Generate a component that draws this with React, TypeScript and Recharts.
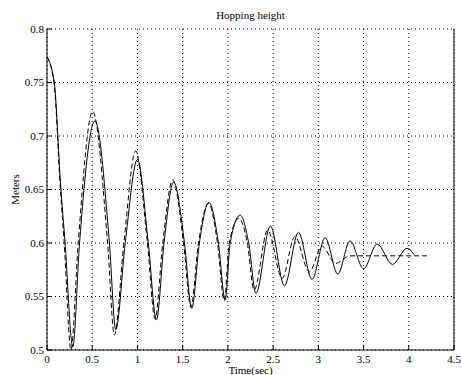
import React from 'react';
import { LineChart, Line, XAxis, YAxis, CartesianGrid } from 'recharts';

const solidTime = [0, 0.08, 0.15, 0.2, 0.285, 0.36, 0.53, 0.69, 0.76, 0.865, 1.0, 1.12, 1.21, 1.294, 1.4, 1.52, 1.6, 1.685, 1.79, 1.895, 1.97, 2.025, 2.135, 2.23, 2.31, 2.47, 2.625, 2.78, 2.93, 3.075, 3.215, 3.35, 3.5, 3.65, 3.82, 3.98, 4.06];
const solidHeight = [0.774, 0.75, 0.655, 0.6, 0.503, 0.6, 0.714, 0.6, 0.519, 0.6, 0.678, 0.6, 0.528, 0.6, 0.657, 0.6, 0.539, 0.6, 0.638, 0.6, 0.547, 0.6, 0.626, 0.6, 0.553, 0.616, 0.56, 0.61, 0.566, 0.605, 0.571, 0.602, 0.576, 0.599, 0.58, 0.595, 0.589];

const dashedTime = [0, 0.08, 0.145, 0.19, 0.265, 0.345, 0.505, 0.67, 0.745, 0.85, 0.98, 1.11, 1.195, 1.28, 1.39, 1.51, 1.59, 1.675, 1.785, 1.885, 1.96, 2.015, 2.12, 2.215, 2.29, 2.44, 2.6, 2.74, 2.9, 3.04, 3.19, 3.35, 4.2];
const dashedHeight = [0.774, 0.748, 0.655, 0.6, 0.5, 0.6, 0.723, 0.6, 0.514, 0.6, 0.686, 0.6, 0.529, 0.6, 0.659, 0.6, 0.54, 0.6, 0.637, 0.6, 0.546, 0.6, 0.623, 0.6, 0.556, 0.612, 0.567, 0.606, 0.573, 0.597, 0.581, 0.588, 0.588];

const xTicks = [0, 0.5, 1, 1.5, 2, 2.5, 3, 3.5, 4, 4.5];
const yTicks = [0.5, 0.55, 0.6, 0.65, 0.7, 0.75, 0.8];

const title = 'Hopping height';
const xLabel = 'Time(sec)';
const yLabel = 'Meters';

const solidData = solidTime.map((t, i) => ({ t, h: solidHeight[i] }));
const dashedData = dashedTime.map((t, i) => ({ t, h: dashedHeight[i] }));

const FONT = '"Liberation Serif", "Times New Roman", serif';
const tickStyle = { fill: '#000', fontSize: 11, fontFamily: FONT };

export default function App() {
  return (
    <div style={{ position: 'absolute', left: 0, top: 0, width: 461, height: 375, fontFamily: FONT, background: '#fff' }}>
      <LineChart width={461} height={375} data={solidData} margin={{ top: 29, right: 0, bottom: 0, left: 0 }}>
        <CartesianGrid stroke="#000" strokeDasharray="1 3" />
        <XAxis
          dataKey="t"
          type="number"
          domain={[0, 4.5]}
          ticks={xTicks}
          interval={0}
          height={25}
          stroke="#000"
          tickSize={-5}
          tickMargin={10}
          tick={tickStyle}
          tickFormatter={(v: number) => String(v)}
          label={{ value: xLabel, position: 'insideBottom', offset: 1, fill: '#000', fontSize: 11, fontFamily: FONT }}
        />
        <XAxis
          xAxisId="top"
          orientation="top"
          dataKey="t"
          type="number"
          domain={[0, 4.5]}
          ticks={xTicks}
          interval={0}
          height={0}
          stroke="#000"
          tickSize={-5}
          tick={false}
        />
        <YAxis
          type="number"
          domain={[0.5, 0.8]}
          ticks={yTicks}
          interval={0}
          width={47}
          stroke="#000"
          tickSize={-5}
          tickMargin={8}
          tick={tickStyle}
          tickFormatter={(v: number) => String(Math.round(v * 100) / 100)}
          label={{ value: yLabel, angle: -90, position: 'insideLeft', offset: 15, fill: '#000', fontSize: 11, fontFamily: FONT, style: { textAnchor: 'middle' } }}
        />
        <YAxis
          yAxisId="right"
          orientation="right"
          type="number"
          domain={[0.5, 0.8]}
          ticks={yTicks}
          interval={0}
          width={7}
          stroke="#000"
          tickSize={-5}
          tick={false}
        />
        <Line data={dashedData} dataKey="h" type="monotone" stroke="#000" strokeWidth={1} strokeDasharray="5 3" dot={false} isAnimationActive={false} />
        <Line data={solidData} dataKey="h" type="monotone" stroke="#000" strokeWidth={1} dot={false} isAnimationActive={false} />
      </LineChart>
      <div style={{ position: 'absolute', left: 47, width: 407, top: 10, textAlign: 'center', fontSize: 11, lineHeight: '11px', color: '#000', fontFamily: FONT }}>
        {title}
      </div>
    </div>
  );
}
